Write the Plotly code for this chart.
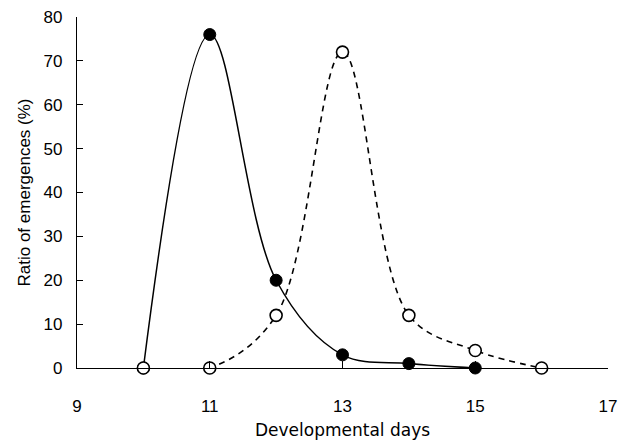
import plotly.graph_objects as go

days_solid = [10, 11, 12, 13, 14, 15]
ratio_solid = [0, 76, 20, 3, 1, 0]
days_dashed = [10, 11, 12, 13, 14, 15, 16]
ratio_dashed = [0, 0, 12, 72, 12, 4, 0]
x_ticks = [9, 11, 13, 15, 17]
y_ticks = [0, 10, 20, 30, 40, 50, 60, 70, 80]

font_family = "Liberation Sans, Arial, sans-serif"

fig = go.Figure()
fig.add_trace(go.Scatter(
    x=days_solid, y=ratio_solid, mode="lines+markers",
    line=dict(color="black", width=1.5, shape="spline", smoothing=1.0),
    marker=dict(symbol="circle", size=12, color="black", line=dict(color="black", width=1)),
    showlegend=False, cliponaxis=False,
))
fig.add_trace(go.Scatter(
    x=days_dashed, y=ratio_dashed, mode="lines+markers",
    line=dict(color="black", width=1.6, dash="6px,5px", shape="spline", smoothing=1.0),
    marker=dict(symbol="circle", size=12, color="white", line=dict(color="black", width=1.6)),
    showlegend=False, cliponaxis=False,
))

fig.update_layout(
    width=619, height=442,
    margin=dict(l=77, r=11, t=17, b=74, autoexpand=False),
    paper_bgcolor="white", plot_bgcolor="white",
    font=dict(family=font_family, color="black", size=16),
    xaxis=dict(
        range=[9, 17], tickvals=x_ticks, ticktext=[str(v) for v in x_ticks],
        ticks="inside", ticklen=7, tickwidth=1.2, tickcolor="black",
        showline=True, linecolor="black", linewidth=1.2, showgrid=False, zeroline=False,
        tickfont=dict(size=17), ticklabelstandoff=22, automargin=False,
        ticklabeloverflow="allow",
        title=dict(text="Developmental days",
                   font=dict(size=17, family="DejaVu Sans, sans-serif"), standoff=9),
    ),
    yaxis=dict(
        range=[0, 80], tickvals=y_ticks,
        ticks="inside", ticklen=6, tickwidth=1.2, tickcolor="black",
        showline=True, linecolor="black", linewidth=1.2, showgrid=False, zeroline=False,
        tickfont=dict(size=17), ticklabelstandoff=10, automargin=False,
        ticklabeloverflow="allow",
        title=dict(text="Ratio of emergences (%)", font=dict(size=17), standoff=8),
    ),
)

fig.write_html(
    "out.html",
    config={"displayModeBar": False},
    post_script="document.body.style.margin='0';document.body.style.overflow='hidden';",
)
